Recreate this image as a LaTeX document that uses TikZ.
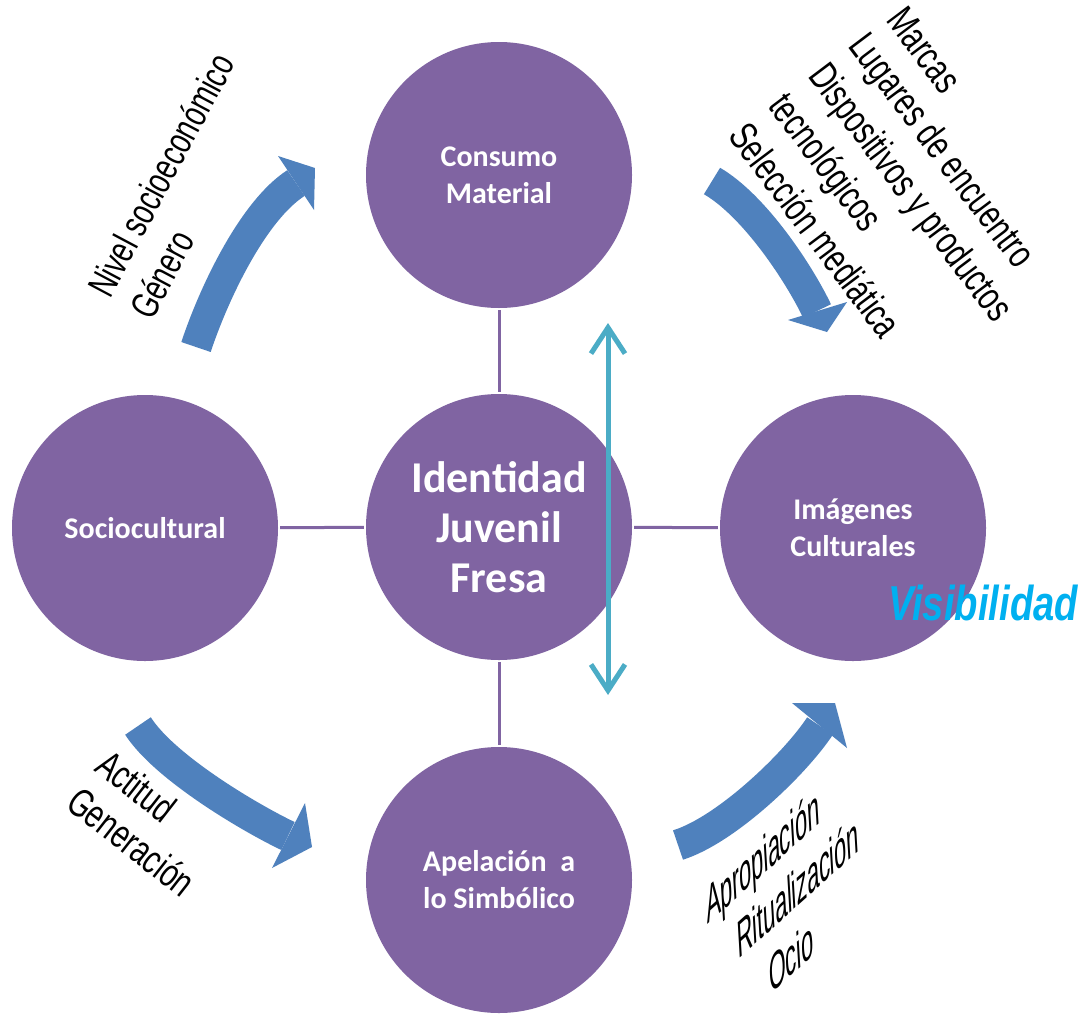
\documentclass[tikz,border=0pt]{standalone}
\usepackage{fontspec}
\usetikzlibrary{arrows.meta}
\newfontfamily\circfont{Carlito}
\newfontfamily\condfont[FakeStretch=0.72]{Liberation Sans}
\newfontfamily\condslantfont[FakeStretch=0.72,FakeSlant=0.8]{Liberation Sans}
\newfontfamily\visfont[FakeStretch=0.78]{Liberation Sans}
\definecolor{purp}{HTML}{8064A2}
\definecolor{arrblue}{HTML}{4F81BD}
\definecolor{tealc}{HTML}{4BACC6}
\definecolor{visblue}{HTML}{00B0F0}
\tikzset{
  circnode/.style={circle, fill=purp, draw=none, minimum size=266pt, inner sep=0pt,
    text=white, align=center, font=\circfont\bfseries\fontsize{30}{37}\selectfont},
  bigtext/.style={font=\circfont\bfseries\fontsize{44}{50}\selectfont},
  conn/.style={draw=purp, line width=3pt, shorten >=2pt, shorten <=2pt},
  blockshaft/.style={draw=arrblue, line width=31pt},
  blockhead/.style={fill=arrblue},
  tealarrow/.style={draw=tealc, line width=5pt,
    {Straight Barb[length=26pt,width=34pt]}-{Straight Barb[length=26pt,width=34pt]}},
  condtext/.style={anchor=base west, inner sep=0pt, text=black,
    font=\condfont\fontsize{40}{48}\selectfont},
  condslant/.style={anchor=base west, inner sep=0pt, text=black,
    font=\condslantfont\fontsize{40}{48}\selectfont}
}
\begin{document}
\begin{tikzpicture}[x=1pt,y=-1pt]
\useasboundingbox[fill=white] (0,0) rectangle (1084,1015);

% circles
\node[circnode] (cons) at (499,175) {Consumo\\Material};
\node[circnode] (soc) at (145,528) {Sociocultural};
\node[circnode, bigtext] (iden) at (499,527) {Identidad\\Juvenil\\Fresa};
\node[circnode] (imag) at (853,528) {Imágenes\\Culturales};
\node[circnode] (apel) at (499,880) {Apelación\ \ a\\lo Simbólico};

% connectors
\draw[conn] (cons) -- (iden);
\draw[conn] (soc) -- (iden);
\draw[conn] (iden) -- (imag);
\draw[conn] (iden) -- (apel);

% block arrow A (Sociocultural -> Consumo)
\coordinate (aAt) at (196,347);
\coordinate (aAe) at (296,183);
\draw[blockshaft] (aAt) .. controls (215,290) and (254,210) .. (aAe);
\fill[blockhead] (278,156) -- (315,168) -- (314,210) -- cycle;

% block arrow B (Consumo -> Imagenes)
\coordinate (aBt) at (712,181);
\coordinate (aBe) at (817,311);
\draw[blockshaft] (aBt) .. controls (755,206) and (800,275) .. (aBe);
\fill[blockhead] (788,320) -- (827,332) -- (847,302) -- cycle;

% block arrow C (Sociocultural -> Apelacion)
\coordinate (aCt) at (138,726);
\coordinate (aCe) at (288,836);
\draw[blockshaft] (aCt) .. controls (165,768) and (252,819) .. (aCe);
\fill[blockhead] (305,803) -- (312,847) -- (272,868) -- cycle;

% block arrow D (Apelacion -> Imagenes)
\coordinate (aDt) at (678,845);
\coordinate (aDe) at (820,726);
\draw[blockshaft] (aDt) .. controls (726,830) and (795,764) .. (aDe);
\fill[blockhead] (792,703) -- (835,703) -- (847,748) -- cycle;

% teal double arrow
\coordinate (tTop) at (608,323);
\coordinate (tBot) at (608,695);
\draw[tealarrow] (tTop) -- (tBot);

% rotated labels
\node[condtext, rotate=62, font=\condfont\fontsize{38.5}{46}\selectfont] (t1a) at (110,300) {Nivel socioeconómico};
\node[condtext, rotate=62, font=\condfont\fontsize{38.5}{46}\selectfont] (t1b) at (152,322) {Género};

\node[condtext, rotate=-53] (t2a) at (885,20) {Marcas};
\node[condtext, rotate=-53] (t2b) at (847,46) {Lugares de encuentro};
\node[condtext, rotate=-53] (t2c) at (807,76) {Dispositivos y productos};
\node[condtext, rotate=-53] (t2d) at (767,106) {tecnológicos};
\node[condtext, rotate=-53] (t2e) at (727,136) {Selección mediática};

\node[condtext, rotate=-38] (t3a) at (93,770) {Actitud};
\node[condtext, rotate=-38] (t3b) at (64,807) {Generación};

\node[condslant, rotate=42] (t4a) at (707,925) {Apropiación};
\node[condslant, rotate=42] (t4b) at (738,960) {Ritualización};
\node[condslant, rotate=42] (t4c) at (770,995) {Ocio};

% Visibilidad
\node[anchor=base west, inner sep=0pt, text=visblue,
  font=\visfont\bfseries\itshape\fontsize{49}{55}\selectfont] (vis) at (888,620) {Visibilidad};
\end{tikzpicture}
\end{document}
